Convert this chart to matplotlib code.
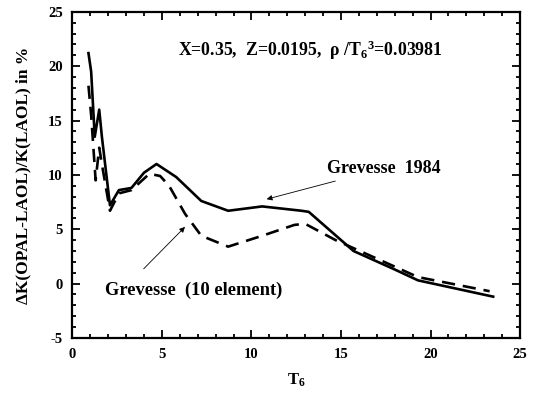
import matplotlib.pyplot as plt
from matplotlib.ticker import MultipleLocator

plt.rcParams["font.family"] = ["Liberation Serif", "DejaVu Serif"]
plt.rcParams["font.weight"] = "bold"
plt.rcParams["axes.labelweight"] = "bold"
plt.rcParams["axes.unicode_minus"] = False
plt.rcParams["mathtext.fontset"] = "custom"
plt.rcParams["mathtext.rm"] = "Liberation Serif:bold"
plt.rcParams["mathtext.it"] = "Liberation Serif:bold"

# Grevesse 1984 (solid)
t6_solid = [0.9, 1.05, 1.25, 1.5, 1.65, 2.1, 2.6, 3.3, 4.0, 4.7, 5.8, 7.2, 8.7, 10.6, 12.8, 13.2, 15.7, 18.0, 19.3, 23.5]
dk_solid = [21.2, 19.5, 13.5, 16.0, 13.5, 7.2, 8.6, 8.8, 10.2, 11.0, 9.8, 7.6, 6.7, 7.1, 6.7, 6.6, 3.0, 1.3, 0.3, -1.2]

# Grevesse (10 element) (dashed)
t6_dash = [0.9, 1.05, 1.3, 1.5, 1.7, 2.1, 2.6, 3.3, 4.3, 4.9, 5.4, 6.3, 7.2, 8.7, 10.6, 12.4, 13.0, 14.7, 19.3, 23.3]
dk_dash = [18.2, 15.5, 9.5, 12.5, 10.5, 6.7, 8.3, 8.6, 10.1, 9.9, 9.0, 6.4, 4.4, 3.4, 4.4, 5.4, 5.5, 4.0, 0.6, -0.7]

fig = plt.figure(figsize=(5.44, 3.93), dpi=100)
ax = fig.add_axes([0.133, 0.14, 0.823, 0.83])

ax.plot(t6_solid, dk_solid, color="k", lw=1.9)
ax.plot(t6_dash, dk_dash, color="k", lw=1.9, dashes=(5, 3))

ax.set_xlim(0, 25)
ax.set_ylim(-5, 25)
ax.xaxis.set_major_locator(MultipleLocator(5))
ax.xaxis.set_minor_locator(MultipleLocator(1))
ax.yaxis.set_major_locator(MultipleLocator(5))
ax.yaxis.set_minor_locator(MultipleLocator(1))
ax.tick_params(which="both", direction="in", top=True, right=True, width=1.3)
ax.tick_params(which="major", length=6, labelsize=10.5, pad=7)
ax.tick_params(which="minor", length=3)
for s in ax.spines.values():
    s.set_linewidth(1.6)

ax.set_xlabel(r"T$_6$", fontsize=12, labelpad=8)
ax.set_ylabel("ΔK(OPAL-LAOL)/K(LAOL) in %", fontsize=12.5, labelpad=12)

ax.text(13.3, 21.5, r"X=0.35,  Z=0.0195,  ρ /T$_6$$^3$=0.03981",
        ha="center", va="center", fontsize=12.8)

ax.annotate("Grevesse  1984", xy=(10.7, 7.7), xytext=(14.2, 10.6),
            ha="left", va="center", fontsize=13,
            arrowprops=dict(arrowstyle="-|>", color="k", lw=0.6,
                            mutation_scale=8, shrinkA=4))
ax.annotate("Grevesse  (10 element)", xy=(6.4, 5.4), xytext=(1.8, -0.6),
            ha="left", va="center", fontsize=13.3,
            arrowprops=dict(arrowstyle="-|>", color="k", lw=0.6,
                            mutation_scale=8, shrinkA=10,
                            relpos=(0.15, 1.0)))

fig.savefig("out.png", dpi=100, facecolor="white")
